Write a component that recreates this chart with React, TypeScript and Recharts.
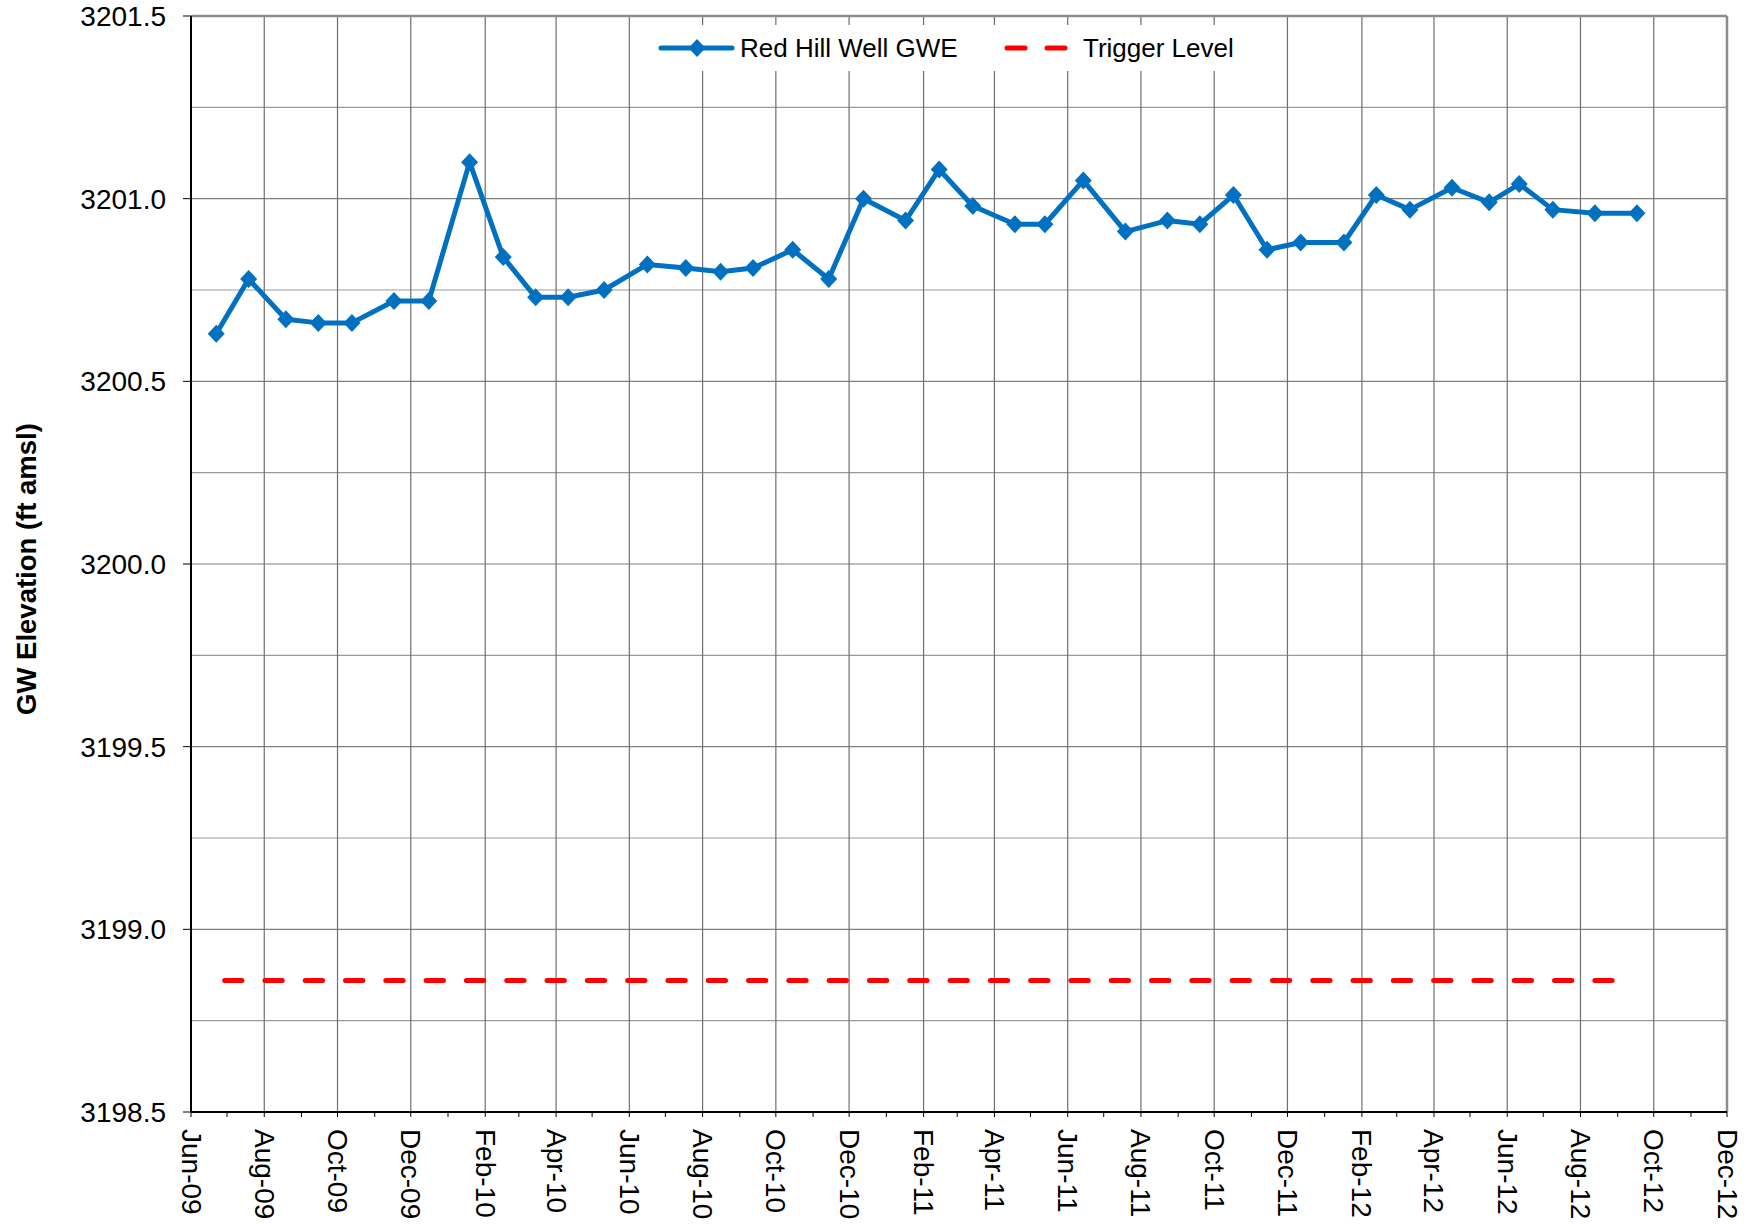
import React from 'react';
import { LineChart, Line, XAxis, YAxis, CartesianGrid, ReferenceLine, Legend } from 'recharts';

const FONT = "'Liberation Sans', Arial, Helvetica, sans-serif";

// Sampling dates and groundwater elevations (ft amsl)
const sampleDates = [
  '2009-06-22', '2009-07-19', '2009-08-19', '2009-09-15', '2009-10-13', '2009-11-17', '2009-12-16',
  '2010-01-19', '2010-02-16', '2010-03-15', '2010-04-11', '2010-05-11', '2010-06-16', '2010-07-18',
  '2010-08-16', '2010-09-12', '2010-10-15', '2010-11-14', '2010-12-13', '2011-01-17', '2011-02-14',
  '2011-03-14', '2011-04-18', '2011-05-13', '2011-06-14', '2011-07-19', '2011-08-23', '2011-09-19',
  '2011-10-17', '2011-11-14', '2011-12-12', '2012-01-17', '2012-02-13', '2012-03-12', '2012-04-16',
  '2012-05-17', '2012-06-11', '2012-07-09', '2012-08-13', '2012-09-17',
];
const gweValues = [
  3200.63, 3200.78, 3200.67, 3200.66, 3200.66, 3200.72, 3200.72,
  3201.10, 3200.84, 3200.73, 3200.73, 3200.75, 3200.82, 3200.81,
  3200.80, 3200.81, 3200.86, 3200.78, 3201.00, 3200.94, 3201.08,
  3200.98, 3200.93, 3200.93, 3201.05, 3200.91, 3200.94, 3200.93,
  3201.01, 3200.86, 3200.88, 3200.88, 3201.01, 3200.97, 3201.03,
  3200.99, 3201.04, 3200.97, 3200.96, 3200.96,
];

const triggerDates = ['2009-06-29', '2012-08-29'];
const triggerValues = [3198.86, 3198.86];

const majorTickDates = [
  '2009-06-01', '2009-08-01', '2009-10-01', '2009-12-01', '2010-02-01', '2010-04-01', '2010-06-01',
  '2010-08-01', '2010-10-01', '2010-12-01', '2011-02-01', '2011-04-01', '2011-06-01', '2011-08-01',
  '2011-10-01', '2011-12-01', '2012-02-01', '2012-04-01', '2012-06-01', '2012-08-01', '2012-10-01',
  '2012-12-01',
];
const majorTickLabels = [
  'Jun-09', 'Aug-09', 'Oct-09', 'Dec-09', 'Feb-10', 'Apr-10', 'Jun-10',
  'Aug-10', 'Oct-10', 'Dec-10', 'Feb-11', 'Apr-11', 'Jun-11', 'Aug-11',
  'Oct-11', 'Dec-11', 'Feb-12', 'Apr-12', 'Jun-12', 'Aug-12', 'Oct-12',
  'Dec-12',
];

const yTicks = [3198.5, 3199.0, 3199.5, 3200.0, 3200.5, 3201.0, 3201.5];
const yMinorGrid = [3198.75, 3199.25, 3199.75, 3200.25, 3200.75, 3201.25];

const toT = (s: string) => Date.parse(s + 'T00:00:00Z');

const gweData = sampleDates.map((d, i) => ({ t: toT(d), gwe: gweValues[i] }));
const triggerData = triggerDates.map((d, i) => ({ t: toT(d), trig: triggerValues[i] }));
const majorTs = majorTickDates.map(toT);

// monthly tick marks between first and last major tick
const monthlyTs: number[] = [];
for (let y = 2009, m = 5; y < 2012 || (y === 2012 && m <= 11); ) {
  monthlyTs.push(Date.UTC(y, m, 1));
  m += 1;
  if (m > 11) { m = 0; y += 1; }
}

const xDomain = [majorTs[0], majorTs[majorTs.length - 1]];

const XTick = (props: any) => {
  const { x, y, payload } = props;
  const i = majorTs.indexOf(payload.value);
  if (i < 0) return <g />;
  return (
    <text
      x={x}
      y={y}
      transform={`rotate(90 ${x} ${y})`}
      textAnchor="start"
      dominantBaseline="central"
      fontSize={28}
      fontFamily={FONT}
      fill="#000"
    >
      {majorTickLabels[i]}
    </text>
  );
};

const Diamond = (props: any) => {
  const { cx, cy, index } = props;
  if (cx == null || cy == null) return <g key={`e${index}`} />;
  return (
    <polygon
      key={`d${index}`}
      points={`${cx},${cy - 9} ${cx + 8.5},${cy} ${cx},${cy + 9} ${cx - 8.5},${cy}`}
      fill="#0070C0"
    />
  );
};

const LegendBox = () => (
  <div style={{ width: 600, height: 46, background: '#fff' }}>
    <svg width={600} height={46} style={{ display: 'block' }}>
      <line x1={21} y1={23} x2={92} y2={23} stroke="#0070C0" strokeWidth={5} strokeLinecap="round" />
      <polygon points="57,14 65.5,23 57,32 48.5,23" fill="#0070C0" />
      <text x={100} y={23} dominantBaseline="central" fontSize={26} fontFamily={FONT} fill="#000">
        Red Hill Well GWE
      </text>
      <line x1={367} y1={23} x2={385} y2={23} stroke="#FF0000" strokeWidth={5} strokeLinecap="round" />
      <line x1={407} y1={23} x2={425} y2={23} stroke="#FF0000" strokeWidth={5} strokeLinecap="round" />
      <text x={443} y={23} dominantBaseline="central" fontSize={26} fontFamily={FONT} fill="#000">
        Trigger Level
      </text>
    </svg>
  </div>
);

const YTitle = (props: any) => {
  const vb = props.viewBox || { x: 0, y: 16, width: 191, height: 1096 };
  const cx = 26;
  const cy = vb.y + vb.height / 2 + 5;
  return (
    <text
      x={cx}
      y={cy}
      transform={`rotate(-90 ${cx} ${cy})`}
      textAnchor="middle"
      dominantBaseline="central"
      fontSize={27.5}
      fontWeight="bold"
      fontFamily={FONT}
      fill="#000"
    >
      GW Elevation (ft amsl)
    </text>
  );
};

export default function App() {
  return (
    <div style={{ position: 'absolute', left: 0, top: 0, width: 1752, height: 1225, background: '#fff' }}>
      <LineChart
        width={1752}
        height={1225}
        margin={{ top: 16, right: 25, bottom: 0, left: 0 }}
      >
        <CartesianGrid vertical={false} stroke="#7f7f7f" strokeWidth={1.2} />
        {yMinorGrid.map((v) => (
          <ReferenceLine key={`hy${v}`} y={v} stroke="#9a9a9a" strokeWidth={1.2} />
        ))}
        {majorTs.slice(1, -1).map((t) => (
          <ReferenceLine key={`vx${t}`} x={t} stroke="#6f6f6f" strokeWidth={1.2} />
        ))}
        <ReferenceLine y={3201.5} stroke="#8c8c8c" strokeWidth={2.5} />
        <ReferenceLine x={majorTs[majorTs.length - 1]} stroke="#8c8c8c" strokeWidth={2.5} />
        <XAxis
          dataKey="t"
          type="number"
          scale="linear"
          domain={xDomain}
          ticks={monthlyTs}
          interval={0}
          allowDataOverflow
          height={113}
          tickSize={5}
          tickMargin={12}
          tick={<XTick />}
          axisLine={{ stroke: '#000', strokeWidth: 2 }}
          tickLine={{ stroke: '#000', strokeWidth: 1 }}
        />
        <YAxis
          type="number"
          domain={[3198.5, 3201.5]}
          ticks={yTicks}
          interval={0}
          allowDataOverflow
          width={191}
          tickSize={8}
          tickMargin={17}
          tickFormatter={(v: number) => v.toFixed(1)}
          tick={{ fontSize: 28, fill: '#000', fontFamily: FONT }}
          axisLine={{ stroke: '#000', strokeWidth: 2 }}
          tickLine={{ stroke: '#000', strokeWidth: 1 }}
          label={<YTitle />}
        />
        <Legend
          verticalAlign="middle"
          align="center"
          layout="horizontal"
          content={<LegendBox />}
          wrapperStyle={{ top: 25, left: 640, width: 600, height: 46 }}
        />
        <Line
          data={triggerData}
          dataKey="trig"
          name="Trigger Level"
          stroke="#FF0000"
          strokeWidth={5}
          strokeDasharray="17.3 23"
          strokeLinecap="round"
          dot={false}
          activeDot={false}
          isAnimationActive={false}
        />
        <Line
          data={gweData}
          dataKey="gwe"
          name="Red Hill Well GWE"
          stroke="#0070C0"
          strokeWidth={5}
          strokeLinejoin="round"
          dot={<Diamond />}
          activeDot={false}
          isAnimationActive={false}
        />
      </LineChart>
    </div>
  );
}
